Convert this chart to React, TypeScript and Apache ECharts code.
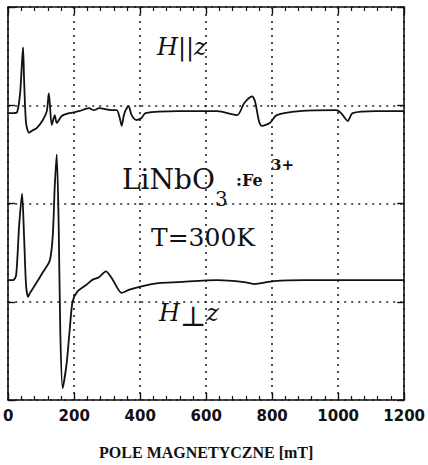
import React, { useEffect, useRef } from "react";
import * as echarts from "echarts";

// Magnetic field (mT) and signal (arbitrary units, axis 0..4)
const parField = [0, 15, 27, 36, 42, 45, 48, 54, 63, 72, 87, 105, 117, 123, 126, 132, 141, 147, 162, 186, 215, 245, 260, 275, 314, 329, 338, 344, 350, 356, 365, 374, 389, 404, 416, 515, 634, 694, 715, 739, 748, 760, 769, 793, 814, 883, 994, 1009, 1029, 1044, 1113, 1200];
const parSignal = [2.92, 2.92, 2.93, 3.12, 3.45, 3.59, 3.27, 2.82, 2.72, 2.74, 2.77, 2.85, 2.94, 3.12, 3.02, 2.80, 2.90, 2.82, 2.89, 2.92, 2.94, 2.97, 2.95, 2.97, 2.95, 2.95, 2.87, 2.79, 2.89, 2.95, 2.99, 2.90, 2.85, 2.87, 2.92, 2.94, 2.94, 2.90, 3.02, 3.09, 3.04, 2.84, 2.79, 2.82, 2.90, 2.94, 2.95, 2.92, 2.84, 2.92, 2.94, 2.94];

const perpField = [0, 15, 24, 33, 42, 48, 54, 60, 66, 87, 105, 126, 135, 141, 147, 153, 158, 165, 177, 186, 195, 209, 236, 254, 275, 296, 314, 344, 365, 395, 455, 515, 634, 715, 745, 805, 900, 1200];
const perpSignal = [1.22, 1.22, 1.27, 1.77, 2.10, 1.67, 1.17, 1.05, 1.09, 1.20, 1.30, 1.42, 1.67, 2.17, 2.50, 1.77, 0.67, 0.12, 0.37, 0.70, 1.00, 1.10, 1.17, 1.22, 1.25, 1.31, 1.24, 1.09, 1.12, 1.15, 1.19, 1.20, 1.22, 1.20, 1.18, 1.21, 1.22, 1.22];

const xTicks = [0, 200, 400, 600, 800, 1000, 1200];
const xName = "POLE MAGNETYCZNE [mT]";

export default function App() {
  const ref = useRef<HTMLDivElement>(null);
  useEffect(() => {
    if (!ref.current) return;
    const chart = echarts.init(ref.current, null, { renderer: "svg" });
    const dotted = { color: "#222", width: 1.6, type: [2, 5] as any };
    const axisLine = { show: true, onZero: false, lineStyle: { color: "#111", width: 1.6 } };
    const xCommon = {
      type: "value" as const,
      min: xTicks[0],
      max: xTicks[xTicks.length - 1],
      interval: 200,
      axisLine,
      axisTick: { show: true, inside: true, length: 7, lineStyle: { color: "#111", width: 1.4 } },
      minorTick: { show: true, splitNumber: 5, length: 4, lineStyle: { color: "#111", width: 1.2 } },
    };
    const yCommon = {
      type: "value" as const,
      min: 0,
      max: 4,
      interval: 1,
      axisLine,
      axisLabel: { show: false },
      axisTick: { show: true, inside: true, length: 7, lineStyle: { color: "#111", width: 1.4 } },
    };
    const serif = "DejaVu Serif";
    chart.setOption({
      animation: false,
      backgroundColor: "#ffffff",
      grid: { left: 8, top: 7, width: 401, height: 400, containLabel: false },
      xAxis: [
        {
          ...xCommon,
          position: "bottom",
          axisLabel: { show: true, color: "#111", fontFamily: "DejaVu Sans", fontWeight: "bold", fontSize: 15, margin: 8, formatter: (v: number) => String(v) },
          splitLine: { show: true, lineStyle: dotted },
          name: xName,
          nameLocation: "middle",
          nameGap: 44,
          nameTextStyle: { color: "#111", fontFamily: "Liberation Serif", fontWeight: "bold", fontSize: 16 },
        },
        { ...xCommon, position: "top", axisLabel: { show: false }, splitLine: { show: false } },
      ],
      yAxis: [
        { ...yCommon, position: "left", splitLine: { show: true, lineStyle: dotted } },
        { ...yCommon, position: "right", splitLine: { show: false } },
      ],
      series: [
        {
          type: "line",
          data: parField.map((f, i) => [f, parSignal[i]]),
          showSymbol: false,
          smooth: 0.25,
          lineStyle: { color: "#111", width: 1.8 },
        },
        {
          type: "line",
          data: perpField.map((f, i) => [f, perpSignal[i]]),
          showSymbol: false,
          smooth: 0.25,
          lineStyle: { color: "#111", width: 1.8 },
        },
      ],
      graphic: [
        {
          type: "text",
          left: 157,
          top: 35,
          style: {
            text: "{i|H}{n|||}{i|z}",
            rich: {
              i: { fontFamily: serif, fontStyle: "italic", fontSize: 24, fill: "#111" },
              n: { fontFamily: serif, fontSize: 24, fill: "#111" },
            },
          },
        },
        { type: "text", left: 122, top: 165, style: { text: "LiNbO", fontFamily: serif, fontSize: 28, fill: "#111" } },
        { type: "text", left: 215, top: 189, style: { text: "3", fontFamily: serif, fontSize: 20, fill: "#111" } },
        { type: "text", left: 236, top: 172, style: { text: ":Fe", fontFamily: serif, fontWeight: "bold", fontSize: 16, fill: "#111" } },
        { type: "text", left: 271, top: 157, style: { text: "3+", fontFamily: serif, fontWeight: "bold", fontSize: 15, fill: "#111" } },
        { type: "text", left: 151, top: 225, style: { text: "T=300K", fontFamily: serif, fontSize: 25, fill: "#111" } },
        {
          type: "text",
          left: 159,
          top: 301,
          style: {
            text: "{i|H}{n|⊥}{i|z}",
            rich: {
              i: { fontFamily: serif, fontStyle: "italic", fontSize: 24, fill: "#111" },
              n: { fontFamily: serif, fontSize: 28, fill: "#111", padding: [6, 0, 0, 0] },
            },
          },
        },
      ],
    });
    return () => chart.dispose();
  }, []);
  return <div ref={ref} style={{ position: "fixed", left: 0, top: 0, width: 428, height: 465 }} />;
}
